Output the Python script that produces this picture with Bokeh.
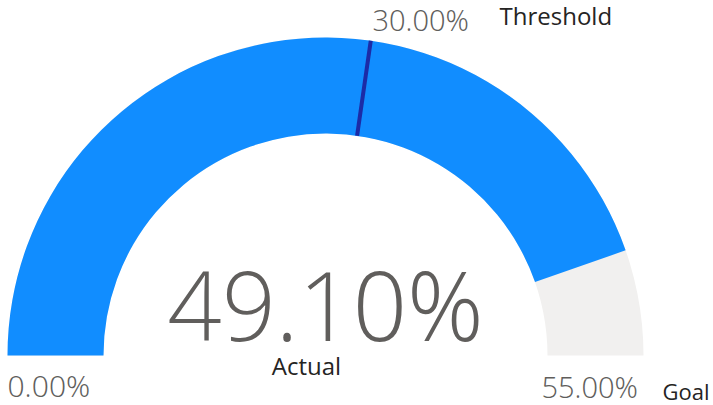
import math
from bokeh.plotting import figure
from bokeh.models import Range1d
from bokeh.core.properties import value
from bokeh.embed import file_html
from bokeh.resources import INLINE

# ---- data ----
gauge_min = 0.0
gauge_max = 55.0
actual = 49.10
threshold = 30.0
value_labels = ["0.00%", "55.00%", "30.00%", "49.10%"]
name_labels = ["Goal", "Threshold", "Actual"]

BLUE = "#118DFF"
TRACK = "#F1F0EF"
TARGET = "#1C2BA6"
VAL_COL = "#605E5C"
NAME_COL = "#252423"

W, H = 713, 405
p = figure(width=W, height=H, output_backend="svg", toolbar_location=None,
           x_range=Range1d(0, W), y_range=Range1d(0, H),
           min_border=0, outline_line_color=None)
p.axis.visible = False
p.xgrid.visible = False
p.ygrid.visible = False
p.background_fill_color = "white"
p.border_fill_color = "white"

def py(page_y):
    return H - page_y

cx, cy = 325, py(355)
r_out, r_in = 318, 222

def ang(v):
    return math.pi * (1 - (v - gauge_min) / (gauge_max - gauge_min))

# track
p.annular_wedge(x=[cx], y=[cy], inner_radius=r_in, outer_radius=r_out,
                start_angle=[ang(gauge_max)], end_angle=[ang(gauge_min)],
                fill_color=TRACK, line_color=None)
# value
p.annular_wedge(x=[cx], y=[cy], inner_radius=r_in, outer_radius=r_out,
                start_angle=[ang(actual)], end_angle=[ang(gauge_min)],
                fill_color=BLUE, line_color=None)
# threshold marker
ta = ang(threshold)
p.segment(x0=[cx + r_in * math.cos(ta)], y0=[cy + r_in * math.sin(ta)],
          x1=[cx + r_out * math.cos(ta)], y1=[cy + r_out * math.sin(ta)],
          line_color=TARGET, line_width=4)

def label(x, baseline_y, txt, font, size, color, align="left"):
    # the svg renderer draws the alphabetic baseline ~0.36em below the anchor
    p.text(x=[x], y=[py(baseline_y - 0.36 * size)], text=[txt], text_font=value(font),
           text_font_size=f"{size}px", text_color=color, text_align=align,
           text_baseline="alphabetic")

VF = "Open Sans Light"
NF = "Open Sans"
label(7, 396, value_labels[0], VF, 30, VAL_COL)
label(541, 396, value_labels[1], VF, 29, VAL_COL)
label(372, 29, value_labels[2], VF, 29, VAL_COL)
label(662, 398, name_labels[0], NF, 22, NAME_COL)
label(499, 24, name_labels[1], NF, 24, NAME_COL)
label(306, 374, name_labels[2], NF, 24, NAME_COL, "center")
label(325, 338, value_labels[3], VF, 95, VAL_COL, "center")

open("out.html", "w").write(file_html(p, INLINE))
